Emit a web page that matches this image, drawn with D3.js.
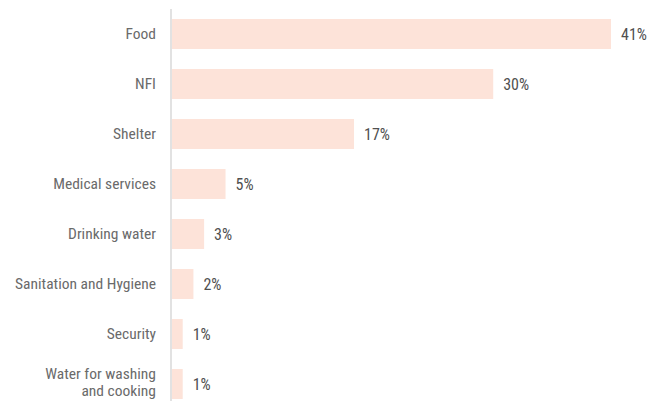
<!DOCTYPE html>
<html>
<head>
<meta charset="utf-8">
<script src="https://cdn.jsdelivr.net/npm/d3@7"></script>
<style>
  html, body { margin: 0; padding: 0; background: #fff; }
  svg { display: block; }
  text { font-family: "Liberation Sans Narrow", "Roboto Condensed", "DejaVu Sans Condensed", sans-serif; }
</style>
</head>
<body>
<svg id="chart" width="665" height="401"></svg>
<script>
// Share of respondents naming each need (percent)
const categories = [
  "Food",
  "NFI",
  "Shelter",
  "Medical services",
  "Drinking water",
  "Sanitation and Hygiene",
  "Security",
  "Water for washing\nand cooking"
];
const values = [41, 30, 17, 5, 3, 2, 1, 1];

const data = categories.map((c, i) => ({ category: c, value: values[i] }));

const width = 665, height = 401;
const margin = { top: 9, right: 0, bottom: 0, left: 172 };

const svg = d3.select("#chart");

const x = d3.scaleLinear()
  .domain([0, 41])
  .range([margin.left, margin.left + 439]);

const y = d3.scaleBand()
  .domain(categories)
  .range([margin.top, margin.top + 400])
  .paddingInner(0.4)
  .paddingOuter(0.2);

// Bars
svg.append("g")
  .selectAll("rect")
  .data(data)
  .join("rect")
  .attr("x", x(0))
  .attr("y", d => y(d.category))
  .attr("width", d => x(d.value) - x(0))
  .attr("height", y.bandwidth())
  .attr("fill", "#fde3d9");

// Category axis (line only) with right-aligned labels
svg.append("line")
  .attr("x1", margin.left - 1).attr("x2", margin.left - 1)
  .attr("y1", margin.top).attr("y2", height)
  .attr("stroke", "#d9d9d9")
  .attr("stroke-width", 1.5);

const labels = svg.append("g")
  .selectAll("text")
  .data(data)
  .join("text")
  .attr("x", 156)
  .attr("text-anchor", "end")
  .attr("fill", "#6a6a6a")
  .attr("font-size", 15.5);

labels.each(function(d) {
  const lines = d.category.split("\n");
  const cy = y(d.category) + y.bandwidth() / 2 - (lines.length - 1) * 1.5;
  const lh = 17;
  const t = d3.select(this);
  lines.forEach((ln, i) => {
    t.append("tspan")
      .attr("x", 156)
      .attr("y", cy + (i - (lines.length - 1) / 2) * lh)
      .attr("dy", "0.35em")
      .text(ln);
  });
});

// Value labels
svg.append("g")
  .selectAll("text")
  .data(data)
  .join("text")
  .attr("x", d => x(d.value) + 10)
  .attr("y", d => y(d.category) + y.bandwidth() / 2)
  .attr("dy", "0.35em")
  .attr("fill", "#505050")
  .attr("font-size", 16)
  .text(d => d.value + "%");
</script>
</body>
</html>
